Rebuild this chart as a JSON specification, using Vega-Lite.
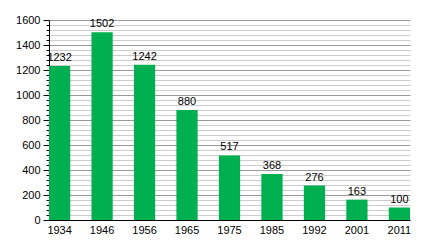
{
  "$schema": "https://vega.github.io/schema/vega-lite/v6.json",
  "width": 361,
  "height": 200,
  "autosize": {"type": "none"},
  "padding": {"left": 49, "top": 20, "right": 30, "bottom": 20},
  "background": "white",
  "config": {
    "view": {"stroke": null},
    "font": "Liberation Sans",
    "axis": {"labelFont": "Liberation Sans", "labelFontSize": 11, "labelColor": "#000", "domainColor": "#000", "title": null}
  },
  "data": {
    "values": [
      {"year": "1934", "pop": 1232},
      {"year": "1946", "pop": 1502},
      {"year": "1956", "pop": 1242},
      {"year": "1965", "pop": 880},
      {"year": "1975", "pop": 517},
      {"year": "1985", "pop": 368},
      {"year": "1992", "pop": 276},
      {"year": "2001", "pop": 163},
      {"year": "2011", "pop": 100}
    ]
  },
  "encoding": {
    "x": {
      "field": "year", "type": "ordinal", "sort": null,
      "scale": {"paddingInner": 0.5, "paddingOuter": 0},
      "axis": {"labelAngle": 0, "ticks": false, "labelPadding": 4, "grid": false}
    },
    "y": {
      "field": "pop", "type": "quantitative",
      "scale": {"domain": [0, 1600], "nice": false},
      "axis": {
        "values": [0,40,80,120,160,200,240,280,320,360,400,440,480,520,560,600,640,680,720,760,800,840,880,920,960,1000,1040,1080,1120,1160,1200,1240,1280,1320,1360,1400,1440,1480,1520,1560,1600],
        "labelExpr": "datum.value % 200 === 0 ? datum.label : ''",
        "format": "d",
        "labelOverlap": false,
        "labelFlush": false,
        "grid": true,
        "gridColor": {"condition": {"test": "datum.value % 200 === 0", "value": "#999999"}, "value": "#cccccc"},
        "tickColor": "#000",
        "tickSize": {"condition": {"test": "datum.value % 200 === 0", "value": 6}, "value": 3},
        "labelPadding": 3
      }
    }
  },
  "layer": [
    {"mark": {"type": "bar", "color": "#00b050"}},
    {
      "mark": {"type": "text", "baseline": "bottom", "dy": -3, "fontSize": 11, "font": "Liberation Sans", "color": "#000"},
      "encoding": {"text": {"field": "pop", "type": "quantitative"}}
    }
  ]
}
